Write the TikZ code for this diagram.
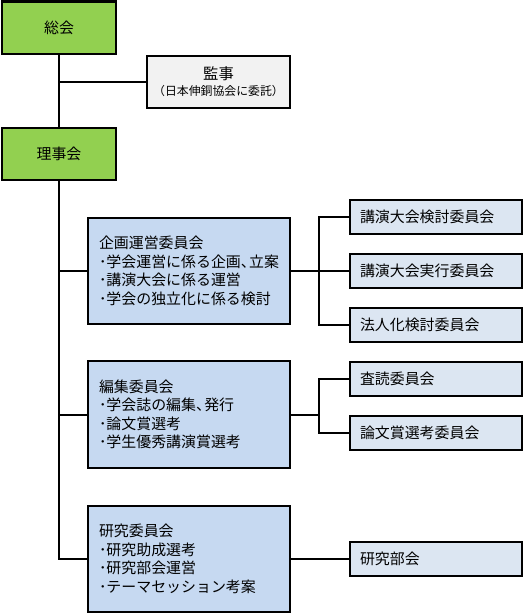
\documentclass[tikz,border=0pt]{standalone}
\usepackage{fontspec}
\setmainfont{Noto Sans CJK JP}
\usepackage{xcolor}
\usepackage{tikz}
\usetikzlibrary{positioning}

\definecolor{topgreen}{HTML}{92D050}
\definecolor{auditgray}{HTML}{F2F2F2}
\definecolor{commblue}{HTML}{C6D9F1}
\definecolor{subblue}{HTML}{DCE6F2}
\newcommand{\tenkomma}{、\kern-0.45em}

\tikzset{
    orgbox/.style={draw, line width=1.5pt, rectangle, inner sep=0pt},
    topbox/.style={orgbox, fill=topgreen, minimum width=85.5pt, minimum height=39pt,
        font=\fontsize{11.2pt}{14pt}\selectfont},
    commbox/.style={orgbox, fill=commblue, minimum width=151.5pt, minimum height=80pt,
        align=left, text width=135pt, font=\fontsize{11.2pt}{13.9pt}\selectfont},
    subbox/.style={orgbox, fill=subblue, minimum width=129pt, minimum height=25.5pt,
        align=left, text width=114pt, font=\fontsize{11.2pt}{14pt}\selectfont},
    link/.style={line width=1.5pt}
}

\begin{document}
\begin{tikzpicture}[x=0.75pt, y=-0.75pt]
    \useasboundingbox (0,0) rectangle (524,614);
    % top level
    \node[topbox] at (59,27.5) (sokai) {総会};
    \node[topbox] at (59,154) (rijikai) {理事会};
    \node[orgbox, fill=auditgray, minimum width=107pt, minimum height=39pt, align=center,
        font=\fontsize{11.5pt}{14pt}\selectfont] at (218.5,82) (kanji)
        {監事\\[-2pt]{\fontsize{8.9pt}{10pt}\selectfont （日本伸銅協会に委託）}};
    % committees
    \node[commbox] at (189,271) (kikaku) {企画運営委員会\\･学会運営に係る企画\tenkomma 立案\\･講演大会に係る運営\\･学会の独立化に係る検討};
    \node[commbox] at (189,414.5) (henshu) {編集委員会\\･学会誌の編集\tenkomma 発行\\･論文賞選考\\･学生優秀講演賞選考};
    \node[commbox] at (189,559) (kenkyu) {研究委員会\\･研究助成選考\\･研究部会運営\\･テーマセッション考案};
    % sub committees
    \node[subbox] at (436,217) (kento) {講演大会検討委員会};
    \node[subbox] at (436,270.5) (jikko) {講演大会実行委員会};
    \node[subbox] at (436,325) (hojin) {法人化検討委員会};
    \node[subbox] at (436,379) (sadoku) {査読委員会};
    \node[subbox] at (436,432.5) (ronbun) {論文賞選考委員会};
    \node[subbox] at (436,559) (bukai) {研究部会};
    \coordinate (forkA) at (319,271);
    \coordinate (forkB) at (319,414.5);
    % connectors
    \draw[link] (sokai.south) -- (rijikai.north);
    \draw[link] (sokai.south |- kanji.west) -- (kanji.west);
    \draw[link] (rijikai.south) |- (kenkyu.west);
    \draw[link] (rijikai.south |- kikaku.west) -- (kikaku.west);
    \draw[link] (rijikai.south |- henshu.west) -- (henshu.west);
    \draw[link] (kikaku.east) -- (forkA);
    \draw[link] (kento.west) -| (forkA) |- (hojin.west);
    \draw[link] (forkA) |- (jikko.west);
    \draw[link] (henshu.east) -- (forkB);
    \draw[link] (sadoku.west) -| (forkB) |- (ronbun.west);
    \draw[link] (kenkyu.east) -- (bukai.west);
\end{tikzpicture}
\end{document}
